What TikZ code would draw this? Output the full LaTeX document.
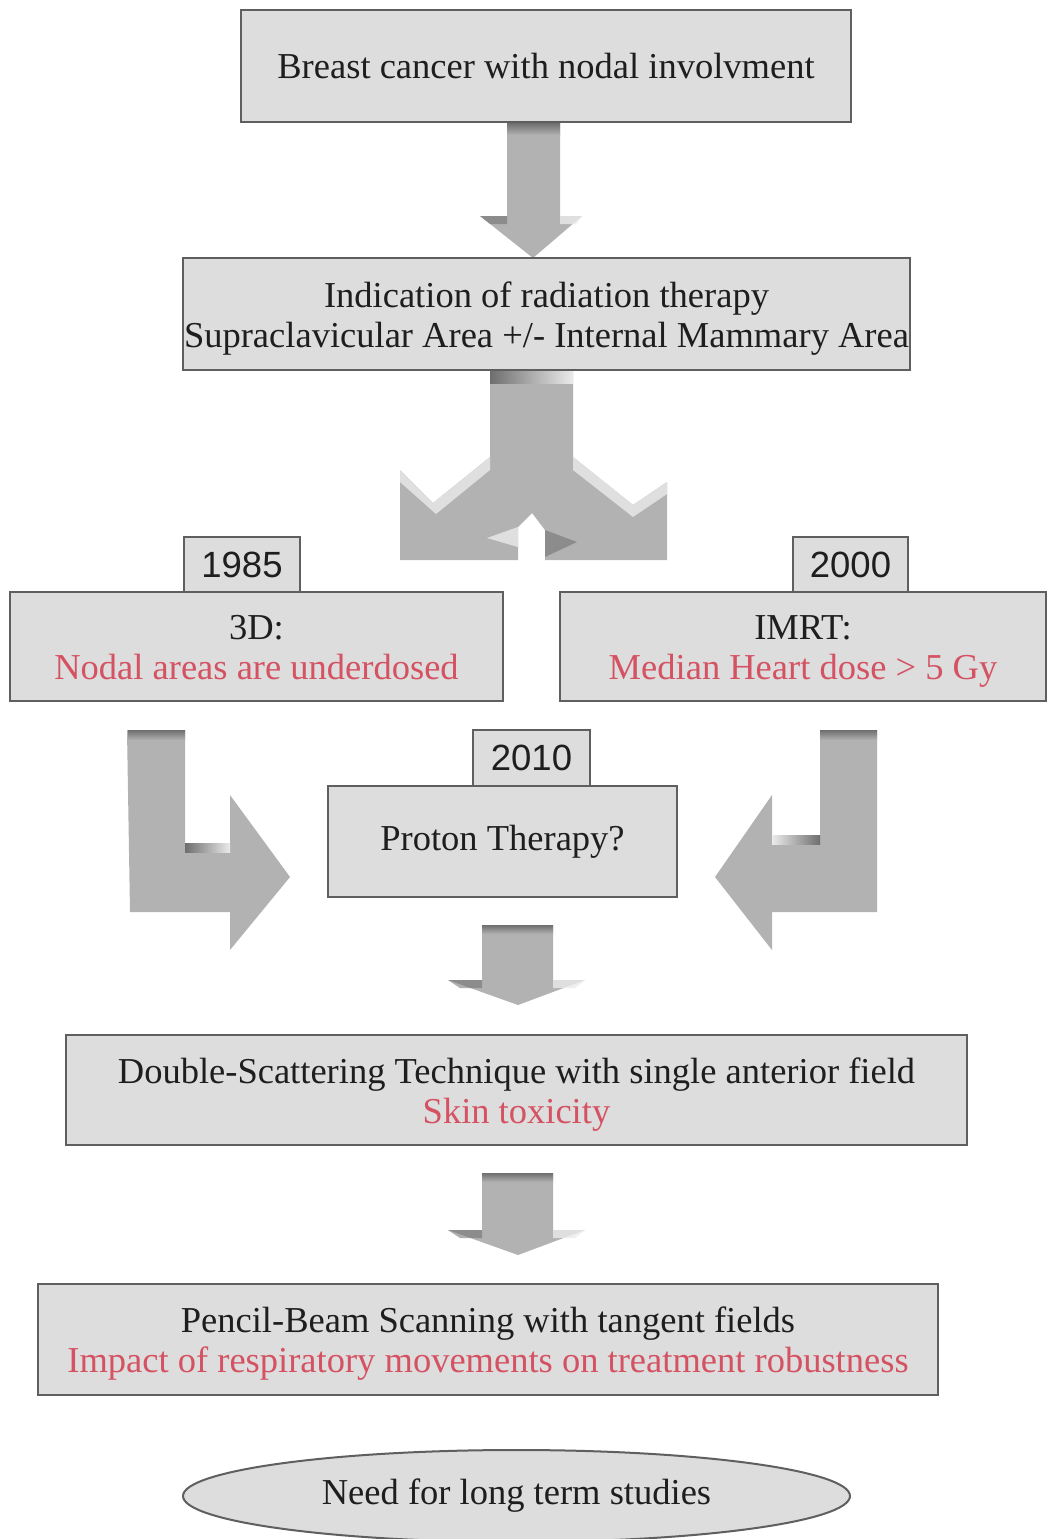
\documentclass[tikz,border=0pt]{standalone}
\usepackage{fontspec}
\setmainfont{Liberation Serif}
\newfontfamily\yearfont{Liberation Sans}
\usetikzlibrary{shapes.geometric}
\definecolor{boxfill}{RGB}{221,221,221}
\definecolor{boxline}{RGB}{95,95,95}
\definecolor{arrowgray}{RGB}{178,178,178}
\definecolor{arrowdark}{RGB}{110,110,110}
\definecolor{arrowlight}{RGB}{235,235,235}
\definecolor{txt}{RGB}{30,30,30}
\definecolor{redtxt}{RGB}{212,82,98}
\tikzset{
  stepbox/.style={draw=boxline, fill=boxfill, line width=2pt, inner sep=0pt,
    align=center, text=txt, font=\fontsize{36.5}{40}\selectfont},
  yearbox/.style={draw=boxline, fill=boxfill, line width=2pt, inner sep=0pt,
    text=txt, font=\yearfont\fontsize{36.5}{40}\selectfont},
  endbox/.style={ellipse, draw=boxline, fill=boxfill, line width=2pt, inner sep=0pt,
    text=txt, font=\fontsize{36.5}{40}\selectfont},
  blockarrow/.style={fill=arrowgray, draw=none},
  bevdark/.style={fill=arrowdark, opacity=0.55, draw=none},
  bevlight/.style={fill=arrowlight, opacity=0.8, draw=none},
}
\newcommand{\red}[1]{\textcolor{redtxt}{#1}}
\newcommand{\topstrut}{\rule{0pt}{38pt}}
\begin{document}
\begin{tikzpicture}[x=1pt,y=-1pt]
\useasboundingbox[fill=white] (0,0) rectangle (1047,1539);

% ---- block arrows (drawn shapes) ----
% arrow 1
\path[blockarrow] (507,122) -- (560,122) -- (560,216) -- (582,216) -- (533,258) -- (480,216) -- (507,216) -- cycle;
\shade[top color=arrowdark, bottom color=arrowgray] (507,123) rectangle (560,135);
\path[bevdark] (480,216) -- (507,216) -- (507,224) -- (490,224) -- cycle;
\path[bevlight] (560,216) -- (582,216) -- (576,224) -- (560,224) -- cycle;

% split arrow
\path[blockarrow] (490,370) -- (573,370) -- (573,457) -- (633,505) -- (667,482) -- (667,560)
  -- (545,560) -- (545,530) -- (532,513) -- (518,527) -- (518,560) -- (400,560)
  -- (400,470) -- (433,503) -- (490,457) -- cycle;
\path[bevlight] (400,470) -- (433,503) -- (490,457) -- (490,470) -- (436,514) -- (400,482) -- cycle;
\path[bevlight] (573,457) -- (633,505) -- (667,482) -- (667,494) -- (633,517) -- (573,470) -- cycle;
\path[bevdark] (545,530) -- (577,542) -- (545,557) -- cycle;
\path[bevlight] (518,527) -- (487,538) -- (518,547) -- cycle;
\shade[left color=arrowdark, right color=arrowlight] (490,371) rectangle (573,383);

% left bent arrow
\path[blockarrow] (127,730) -- (185,730) -- (185,843) -- (230,843) -- (230,795) -- (290,877)
  -- (230,950) -- (230,912) -- (130,912) -- cycle;
\shade[top color=arrowdark, bottom color=arrowgray] (128,730) rectangle (185,740);
\shade[left color=arrowdark, right color=arrowlight] (185,843) rectangle (230,852);

% right bent arrow
\path[blockarrow] (820,730) -- (877,730) -- (877,912) -- (772,912) -- (772,950) -- (715,877)
  -- (772,795) -- (772,835) -- (820,835) -- cycle;
\shade[top color=arrowdark, bottom color=arrowgray] (820,730) rectangle (877,740);
\shade[left color=arrowlight, right color=arrowdark] (772,835) rectangle (820,844);

% arrow 3
\path[blockarrow] (482,925) -- (553,925) -- (553,980) -- (585,980) -- (518,1005) -- (448,980) -- (482,980) -- cycle;
\shade[top color=arrowdark, bottom color=arrowgray] (482,925) rectangle (553,934);
\path[bevdark] (448,980) -- (482,980) -- (482,988) -- (460,988) -- cycle;
\path[bevlight] (553,980) -- (585,980) -- (575,988) -- (553,988) -- cycle;

% arrow 4
\path[blockarrow] (482,1173) -- (553,1173) -- (553,1230) -- (585,1230) -- (518,1255) -- (448,1230) -- (482,1230) -- cycle;
\shade[top color=arrowdark, bottom color=arrowgray] (482,1173) rectangle (553,1182);
\path[bevdark] (448,1230) -- (482,1230) -- (482,1238) -- (460,1238) -- cycle;
\path[bevlight] (553,1230) -- (585,1230) -- (575,1238) -- (553,1238) -- cycle;

% ---- nodes ----
\node[stepbox, minimum width=610pt, minimum height=112pt] (b1) at (546,66)
  {Breast cancer with nodal involvment};
\node[stepbox, minimum width=727pt, minimum height=112pt] (b2) at (546.5,314)
  {\topstrut Indication of radiation therapy\\\strut Supraclavicular Area +/- Internal Mammary Area};

\node[yearbox, minimum width=116pt, minimum height=55pt] (y85) at (242,564.5) {1985};
\node[stepbox, minimum width=493pt, minimum height=109pt] (b3d) at (256.5,646.5)
  {\topstrut 3D:\\\strut\red{Nodal areas are underdosed}};

\node[yearbox, minimum width=115pt, minimum height=55pt] (y00) at (850.5,564.5) {2000};
\node[stepbox, minimum width=486pt, minimum height=109pt] (bimrt) at (803,646.5)
  {\topstrut IMRT:\\\strut\red{Median Heart dose > 5 Gy}};

\node[yearbox, minimum width=117pt, minimum height=56pt] (y10) at (531.5,758) {2010};
\node[stepbox, minimum width=349pt, minimum height=111pt] (bpt) at (502.5,841.5)
  {Proton Therapy?};

\node[stepbox, minimum width=901pt, minimum height=110pt] (bds) at (516.5,1090)
  {\topstrut Double-Scattering Technique with single anterior field\\\strut\red{Skin toxicity}};

\node[stepbox, minimum width=900pt, minimum height=111pt] (bpbs) at (488,1339.5)
  {\topstrut Pencil-Beam Scanning with tangent fields\\\strut\red{Impact of respiratory movements on treatment robustness}};

\node[endbox, minimum width=667pt, minimum height=92pt] (bend) at (516.5,1496)
  {Need for long term studies};
\end{tikzpicture}
\end{document}
